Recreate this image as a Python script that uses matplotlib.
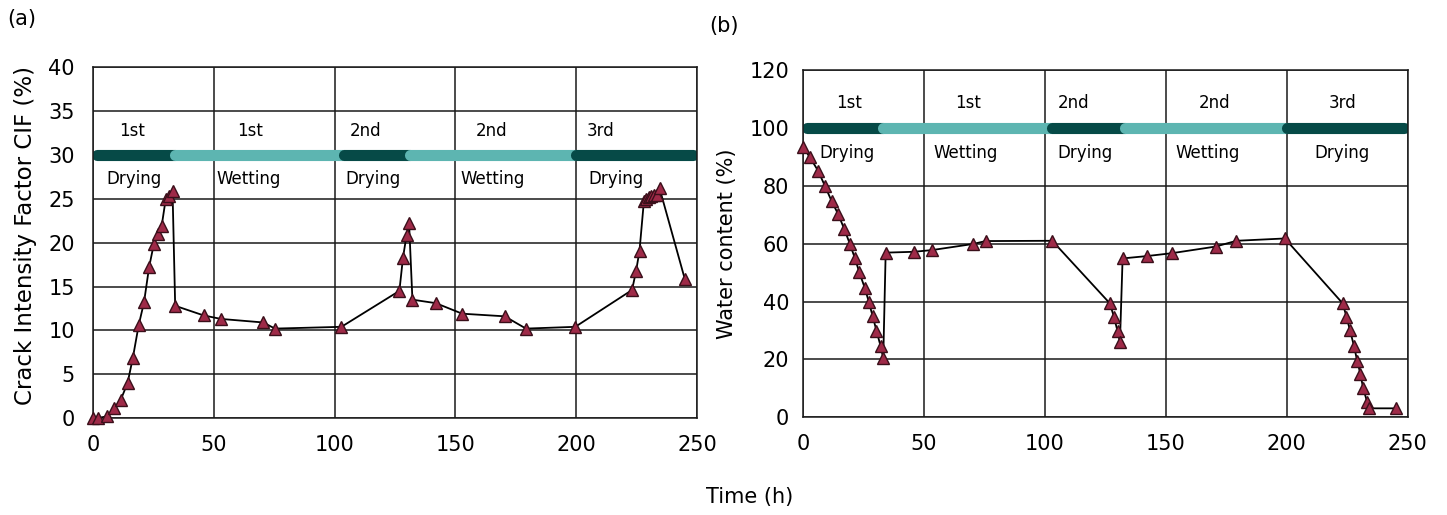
import matplotlib
matplotlib.use("Agg")
import matplotlib.pyplot as plt

# --- data ---
# (a) crack intensity factor vs time
t_cif = [0, 2.2, 5.7, 8.8, 11.5, 14.3, 16.5, 18.9, 21.1, 23.2, 25.2, 26.9, 28.4,
         30.1, 31.5, 32.9, 34.0, 45.8, 53.0, 70.4, 75.3, 102.8, 126.8, 128.3,
         129.8, 130.8, 132.2, 141.9, 152.8, 170.4, 179.2, 199.6, 223.1, 224.8,
         226.2, 228.0, 229.0, 230.0, 231.0, 232.0, 233.5, 234.5, 245.0]
cif = [0, 0, 0.2, 1.1, 2.1, 4.0, 6.9, 10.6, 13.2, 17.2, 19.9, 21.0, 21.9,
       25.0, 25.3, 25.9, 12.8, 11.7, 11.3, 10.9, 10.2, 10.4, 14.5, 18.3,
       20.9, 22.3, 13.5, 13.1, 11.9, 11.6, 10.2, 10.4, 14.6, 16.8,
       19.1, 24.7, 25.0, 25.2, 25.3, 25.4, 25.4, 26.2, 15.8]

# (b) water content vs time
t_wc = [0, 2.8, 6.2, 9.0, 11.7, 14.5, 17.0, 19.3, 21.4, 23.2, 25.5, 27.2, 28.7,
        30.3, 32.0, 33.1, 34.1, 45.9, 53.4, 70.3, 75.4, 103.0, 126.8, 128.5,
        130.0, 131.0, 132.1, 142.0, 152.4, 170.6, 179.2, 199.2, 223.1, 224.7,
        226.1, 227.8, 229.1, 230.5, 231.6, 233.3, 234.1, 245.0]
wc = [93.3, 89.8, 85.1, 79.9, 74.8, 70.1, 65.0, 59.9, 54.9, 50.1, 44.6, 39.7, 35.0,
      29.9, 24.6, 20.4, 56.9, 57.2, 57.8, 59.9, 60.9, 61.0, 39.4, 34.8,
      29.8, 25.9, 54.9, 55.7, 56.7, 59.0, 61.0, 61.8, 39.4, 34.8,
      30.2, 24.7, 19.6, 14.9, 10.0, 5.2, 3.1, 3.1]

# drying / wetting cycles
phase_edges_a = [0, 34, 104, 131, 200, 250]
phase_edges_b = [0, 33, 103, 133, 200, 250]
phase_kind = ["Drying", "Wetting", "Drying", "Wetting", "Drying"]
phase_order = ["1st", "1st", "2nd", "2nd", "3rd"]

# --- style ---
DARK = "#064a47"
LIGHT = "#5db5b1"
MFACE = "#9e2a48"
MEDGE = "#3a0f1a"

plt.rcParams["font.family"] = "DejaVu Sans"

fig = plt.figure(figsize=(14.47, 5.15), dpi=100)
ax_a = fig.add_axes([0.0643, 0.1883, 0.4174, 0.681])
ax_b = fig.add_axes([0.5551, 0.1897, 0.4177, 0.6743])


def style_axes(ax, ymax, ystep, ypad):
    ax.set_xlim(0, 250)
    ax.set_ylim(0, ymax)
    ax.set_xticks(range(0, 251, 50))
    ax.set_yticks(range(0, ymax + 1, ystep))
    ax.grid(True, color="#1a1a1a", linewidth=1.1, zorder=0)
    ax.set_axisbelow(True)
    ax.tick_params(axis="both", length=0, labelsize=15)
    ax.tick_params(axis="x", pad=12)
    ax.tick_params(axis="y", pad=ypad)
    for sp in ax.spines.values():
        sp.set_color("#1a1a1a")
        sp.set_linewidth(1.1)


def draw_phases(ax, edges, ybar, lead, start, order_y, kind_y, kind_ha):
    colors = [DARK if k == "Drying" else LIGHT for k in phase_kind]
    for i in range(len(phase_kind)):
        x0 = max(edges[i], 1.5)
        x1 = min(edges[i + 1], 248.5)
        ax.plot([x0, x1], [ybar, ybar], color=colors[i], linewidth=8,
                solid_capstyle="round", zorder=2)
        ax.text(lead[i], order_y, phase_order[i], fontsize=12, ha="center",
                va="center", zorder=3)
        ax.text(start[i], kind_y, phase_kind[i], fontsize=12, ha=kind_ha[i],
                va="center", zorder=3)


style_axes(ax_a, 40, 5, 13)
style_axes(ax_b, 120, 20, 10)

draw_phases(ax_a, phase_edges_a, 30,
            [16, 65, 113, 165, 210], [5.5, 51, 104.5, 152, 205],
            32.7, 27.3, ["left"] * 5)
draw_phases(ax_b, phase_edges_b, 100,
            [19, 68, 112, 170, 223], [6.5, 54, 105, 154, 223],
            108.5, 91.3, ["left", "left", "left", "left", "center"])

for ax, t, v in [(ax_a, t_cif, cif), (ax_b, t_wc, wc)]:
    ax.plot(t, v, color="black", linewidth=1.3, marker="^", markersize=9,
            markerfacecolor=MFACE, markeredgecolor=MEDGE, markeredgewidth=1.0,
            zorder=4, clip_on=False)

ax_a.set_ylabel("Crack Intensity Factor CIF (%)", fontsize=16.5)
ax_a.yaxis.set_label_coords(-0.093, 0.52)
ax_b.set_ylabel("Water content (%)", fontsize=15)
ax_b.yaxis.set_label_coords(-0.11, 0.5)

fig.text(0.005, 0.963, "(a)", fontsize=15, ha="left", va="center")
fig.text(0.49, 0.95, "(b)", fontsize=15, ha="left", va="center")
fig.text(0.518, 0.035, "Time (h)", fontsize=15, ha="center", va="center")

fig.savefig("out.png", dpi=100)
